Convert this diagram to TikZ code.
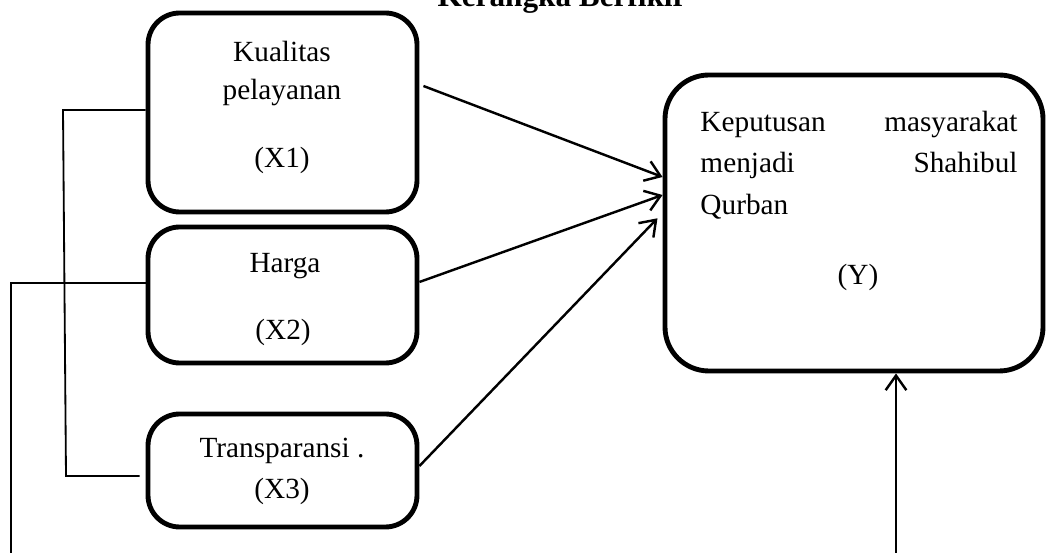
\documentclass[tikz,border=0pt]{standalone}
\usepackage{fontspec}
\setmainfont{Liberation Serif}
\usetikzlibrary{arrows.meta}
\newcommand\pxu{0.41pt}
\tikzset{
  box/.style={draw, line width=2pt, rounded corners=13pt, inner sep=0pt, minimum width=269*\pxu},
  ybox/.style={draw, line width=2pt, rounded corners=18pt, inner sep=0pt},
  txt/.style={font=\fontsize{12}{14}\selectfont, inner sep=0pt, anchor=base},
  arr/.style={line width=1pt, -{Straight Barb[length=6pt,width=8.5pt]}},
  link/.style={line width=0.75pt}
}
\begin{document}
\begin{tikzpicture}[x=\pxu, y=-\pxu]
\useasboundingbox (0,0) rectangle (1046,553);
% title
\node[txt, font=\fontsize{12.8}{15}\selectfont\bfseries] (title) at (562,7) {Kerangka Berfikir};
% boxes
\node[box, minimum height=199*\pxu] (x1) at (282.5,112.5) {};
\node[box, minimum height=136*\pxu] (x2) at (282.5,295) {};
\node[box, minimum height=113*\pxu] (x3) at (282.5,470.5) {};
\node[ybox, minimum width=378*\pxu, minimum height=296*\pxu] (yb) at (854,223) {};
% texts
\node[txt] (t1a) at (282,62) {Kualitas};
\node[txt] (t1b) at (282,100) {pelayanan};
\node[txt] (t1c) at (282,168) {(X1)};
\node[txt] (t2a) at (285,273) {Harga};
\node[txt] (t2b) at (283,340) {(X2)};
\node[txt] (t3a) at (282,458) {Transparansi .};
\node[txt] (t3b) at (282,499) {(X3)};
\node[txt, anchor=base west] (ya) at (700,132) {\makebox[130pt][s]{Keputusan masyarakat}};
\node[txt, anchor=base west] (yb1) at (700,173) {\makebox[130pt][s]{menjadi Shahibul}};
\node[txt, anchor=base west] (yc) at (700,215) {Qurban};
\node[txt] (yd) at (858,285) {(Y)};
% free ends
\coordinate (c1) at (63,110);
\coordinate (c2) at (66,476);
\coordinate (c3) at (11,283);
\coordinate (c4) at (11,553);
\coordinate (c5) at (896,553);
% bracket lines
\draw[link] (x1.west |- c1) -- (c1) -- (c2) -- ([xshift=-6*\pxu]x3.west |- c2);
\draw[link] (x2.west |- c3) -- (c3) -- (c4);
% arrows
\draw[arr] ([xshift=4*\pxu]x1.east |- 0,86) -- (yb.west |- 0,177);
\draw[arr] (x2.east |- 0,282) -- (yb.west |- 0,195);
\draw[arr, shorten >=3pt] (x3.east |- 0,466) -- (yb.west |- 0,213);
\draw[arr] (c5) -- (yb.south -| c5);
\end{tikzpicture}
\end{document}
